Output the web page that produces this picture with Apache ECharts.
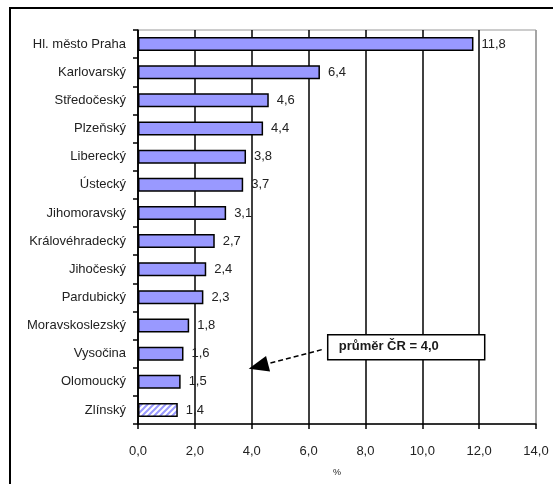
<!DOCTYPE html>
<html>
<head>
<meta charset="utf-8">
<script src="https://cdn.jsdelivr.net/npm/echarts@6/dist/echarts.min.js"></script>
<style>
  html, body { margin: 0; padding: 0; background: #fff; }
  #chart { width: 553px; height: 484px; }
</style>
</head>
<body>
<div id="chart"></div>
<script>
const regions = [
  'Hl. město Praha', 'Karlovarský', 'Středočeský', 'Plzeňský', 'Liberecký', 'Ústecký',
  'Jihomoravský', 'Královéhradecký', 'Jihočeský', 'Pardubický', 'Moravskoslezský',
  'Vysočina', 'Olomoucký', 'Zlínský'
]
const values = [11.8, 6.4, 4.6, 4.4, 3.8, 3.7, 3.1, 2.7, 2.4, 2.3, 1.8, 1.6, 1.5, 1.4]
const highlighted = 'Zlínský'
const average = 4.0
const averageLabel = 'průměr ČR = 4,0'
const xTicks = [0, 2, 4, 6, 8, 10, 12, 14]

const FONT = '"Liberation Sans", Arial, sans-serif'
const BAR = '#9999ff'
const fmt = (v) => v.toFixed(1).replace('.', ',')

// hatched fill for the highlighted region
const hatch = document.createElement('canvas')
hatch.width = 6
hatch.height = 6
const hc = hatch.getContext('2d')
hc.fillStyle = '#fff'
hc.fillRect(0, 0, 6, 6)
hc.strokeStyle = BAR
hc.lineWidth = 2
hc.beginPath()
hc.moveTo(-1, 7); hc.lineTo(7, -1)
hc.moveTo(-4, 4); hc.lineTo(4, -4)
hc.moveTo(2, 10); hc.lineTo(10, 2)
hc.stroke()

const chart = echarts.init(document.getElementById('chart'))
chart.setOption({
  animation: false,
  grid: { left: 138, right: 17, top: 30, bottom: 60, show: true, borderColor: '#999', borderWidth: 1 },
  xAxis: {
    type: 'value',
    min: xTicks[0],
    max: xTicks[xTicks.length - 1],
    interval: 2,
    name: '%',
    nameLocation: 'middle',
    nameGap: 44,
    nameTextStyle: { color: '#222', fontSize: 9, fontFamily: FONT },
    axisLine: { show: true, lineStyle: { color: '#000', width: 1.5 } },
    axisTick: { show: true, length: 5, lineStyle: { color: '#000', width: 1.5 } },
    axisLabel: { color: '#222', fontSize: 13, fontFamily: FONT, margin: 21, formatter: fmt },
    splitLine: {
      show: true,
      lineStyle: { color: ['#000', '#000', '#000', '#000', '#000', '#000', '#000', '#999'], width: 1.5 },
    },
  },
  yAxis: {
    type: 'category',
    inverse: true,
    data: regions,
    axisLine: { lineStyle: { color: '#000', width: 1.5 } },
    axisTick: { show: true, length: 5, lineStyle: { color: '#000', width: 1.5 } },
    axisLabel: { color: '#222', fontSize: 13, fontFamily: FONT, margin: 12 },
  },
  series: [
    {
      type: 'bar',
      barWidth: 14,
      data: values.map((v, i) => ({
        value: v,
        itemStyle: regions[i] === highlighted ? { color: { image: hatch, repeat: 'repeat' } } : {},
      })),
      itemStyle: { color: BAR, borderColor: '#000', borderWidth: 1.5 },
      label: {
        show: true,
        position: 'right',
        distance: 8,
        color: '#222',
        fontSize: 13,
        fontFamily: FONT,
        formatter: (p) => fmt(p.value),
      },
    },
  ],
})

// annotation: arrow pointing to the national average
const yA = chart.convertToPixel({ yAxisIndex: 0 }, 'Vysočina')
const yB = chart.convertToPixel({ yAxisIndex: 0 }, 'Olomoucký')
const tipX = chart.convertToPixel({ xAxisIndex: 0 }, average) - 3
const tipY = (yA + yB) / 2 + 1
const startX = tipX + 73
const startY = yA - 4
const ang = Math.atan2(startY - tipY, startX - tipX)
const head = 20, half = 8
const bx = tipX + head * Math.cos(ang), by = tipY + head * Math.sin(ang)
const px = -Math.sin(ang) * half, py = Math.cos(ang) * half

chart.setOption({
  graphic: [
    {
      type: 'rect',
      shape: { x: 10, y: 8, width: 560, height: 500 },
      style: { fill: 'none', stroke: '#000', lineWidth: 2 },
      silent: true,
    },
    {
      type: 'line',
      shape: { x1: startX, y1: startY, x2: bx, y2: by },
      style: { stroke: '#000', lineWidth: 1.5, lineDash: [5, 3] },
    },
    {
      type: 'polygon',
      shape: { points: [[tipX, tipY], [bx + px, by + py], [bx - px, by - py]] },
      style: { fill: '#000' },
    },
    {
      type: 'rect',
      shape: { x: startX + 6, y: startY - 15, width: 157, height: 25 },
      style: { fill: '#fff', stroke: '#000', lineWidth: 1.5 },
    },
    {
      type: 'text',
      x: startX + 17,
      y: startY - 3,
      style: {
        text: averageLabel,
        fill: '#1a1a1a',
        font: 'bold 13px ' + FONT,
        verticalAlign: 'middle',
      },
    },
  ],
})
</script>
</body>
</html>
